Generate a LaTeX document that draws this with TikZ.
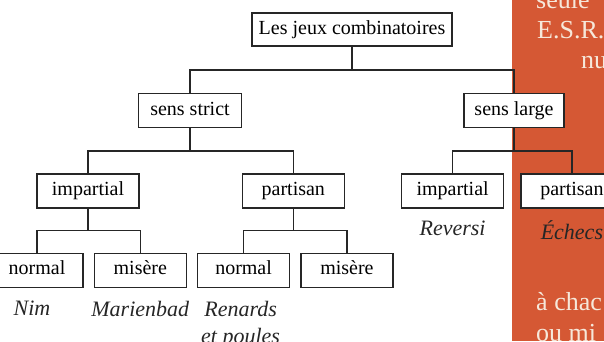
\documentclass[tikz,border=0pt]{standalone}
\usepackage{fontspec}
\setmainfont{Liberation Serif}
\usetikzlibrary{positioning, calc}
\definecolor{pagered}{RGB}{213,88,52}
\definecolor{pagecream}{RGB}{246,232,218}
\tikzset{
    gamebox/.style={rectangle, draw=black!85, fill=white, line width=1.3pt, minimum height=34pt, text height=13.5pt, text depth=4.5pt, text centered, inner xsep=6pt, font=\fontsize{20}{23}\selectfont},
    kindbox/.style={gamebox, minimum width=102pt},
    leafbox/.style={gamebox, minimum width=92pt},
    example/.style={font=\fontsize{22}{27}\selectfont\itshape, inner sep=0pt, align=center, text=black!85},
    branch/.style={line width=1.3pt, draw=black!85, to path={(\tikztostart.south) |- ($(\tikztostart.south)!0.5!(\tikztotarget.north)$) -| (\tikztotarget.north)}},
    pagetext/.style={font=\fontsize{26}{30}\selectfont, text=pagecream, inner sep=0pt, anchor=base west}
}

\begin{document}
\begin{tikzpicture}[x=1pt, y=1pt]
        \useasboundingbox (0,0) rectangle (604,-341);
        \clip (0,0) rectangle (604,-341);
        \fill [pagered] (512,0) rectangle (604,-341);

        \node (seule) [pagetext] at (536,-8) {seule};
        \node (esr) [pagetext] at (537,-38) {E.S.R.};
        \node (nu) [pagetext] at (581,-68) {nu};
        \node (chac) [pagetext] at (536,-310) {à chac};
        \node (oumi) [pagetext] at (536,-341) {ou mi};

        \node (root) [gamebox, minimum width=200pt, minimum height=33pt] at (352,-29.5) {Les jeux combinatoires};
        \node (strict) [gamebox, minimum width=103pt, below=46.5pt of root, xshift=-162pt] {sens strict};
        \node (large) [gamebox, minimum width=100pt, below=46.5pt of root, xshift=162pt] {sens large};

        \node (imp1) [kindbox, below=45pt of strict, xshift=-102pt] {impartial};
        \node (par1) [kindbox, right=102pt of imp1] {partisan};
        \node (imp2) [kindbox, right=56pt of par1] {impartial};
        \node (par2) [kindbox, right=16pt of imp2] {partisan};

        \node (norm1) [leafbox, below=44pt of imp1, xshift=-51pt] {normal};
        \node (mis1) [leafbox, right=10pt of norm1] {misère};
        \node (norm2) [leafbox, right=10pt of mis1] {normal};
        \node (mis2) [leafbox, right=10pt of norm2] {misère};

        \node (nim) [example, below=13pt of norm1, xshift=-5pt] {Nim};
        \node (marienbad) [example, below=13pt of mis1] {Marienbad};
        \node (renards) [example, below=13pt of norm2, xshift=-3pt] {Renards\\et poules};
        \node (reversi) [example, below=12pt of imp2] {Reversi};
        \node (echecs) [example, below=12pt of par2] {Échecs};

        \draw [branch] (root) to (strict);
        \draw [branch] (root) to (large);
        \draw [branch] (strict) to (imp1);
        \draw [branch] (strict) to (par1);
        \draw [branch] (large) to (imp2);
        \draw [branch] (large) to (par2);
        \draw [branch] (imp1) to (norm1);
        \draw [branch] (imp1) to (mis1);
        \draw [branch] (par1) to (norm2);
        \draw [branch] (par1) to (mis2);
    \end{tikzpicture}
\end{document}
